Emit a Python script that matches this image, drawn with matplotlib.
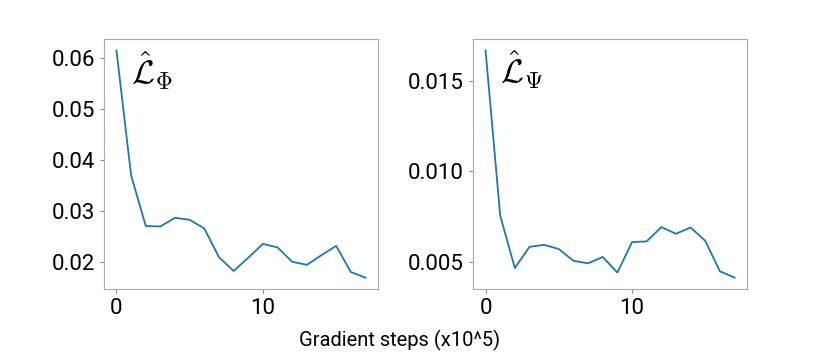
import matplotlib
matplotlib.use("Agg")
import matplotlib.pyplot as plt

steps = list(range(18))
loss_phi = [0.0614, 0.0370, 0.0271, 0.0270, 0.0287, 0.0283, 0.0266, 0.0210, 0.0183,
            0.0209, 0.0236, 0.0229, 0.0201, 0.0195, 0.0214, 0.0232, 0.0181, 0.0170]
loss_psi = [0.01666, 0.00754, 0.00465, 0.00582, 0.00593, 0.00570, 0.00505, 0.00491, 0.00526,
            0.00440, 0.00608, 0.00612, 0.00691, 0.00654, 0.00689, 0.00615, 0.00447, 0.00412]

plt.rcParams['font.family'] = ['Roboto', 'DejaVu Sans']
plt.rcParams['mathtext.fontset'] = 'cm'

fig = plt.figure(figsize=(8.3, 3.57), dpi=100)
ax1 = fig.add_axes([0.1253, 0.1905, 0.330, 0.700])
ax2 = fig.add_axes([0.570, 0.1905, 0.330, 0.700])

for ax, vals, lab in [(ax1, loss_phi, r'$\hat{\mathcal{L}}_\Phi$'),
                      (ax2, loss_psi, r'$\hat{\mathcal{L}}_\Psi$')]:
    ax.plot(steps, vals, color='#1f77b4', lw=1.3)
    ax.set_xticks([0, 10])
    ax.tick_params(labelsize=16, color='#888888', length=3)
    for s in ax.spines.values():
        s.set_color('#aaaaaa')
    ax.text(0.1, 0.96, lab, transform=ax.transAxes, fontsize=24, va='top', ha='left')

ax1.set_yticks([0.02, 0.03, 0.04, 0.05, 0.06])
ax2.set_yticks([0.005, 0.010, 0.015])

fig.text(0.481, 0.045, 'Gradient steps (x10^5)', ha='center', va='center', fontsize=14.5)

plt.savefig('out.png', dpi=100)
